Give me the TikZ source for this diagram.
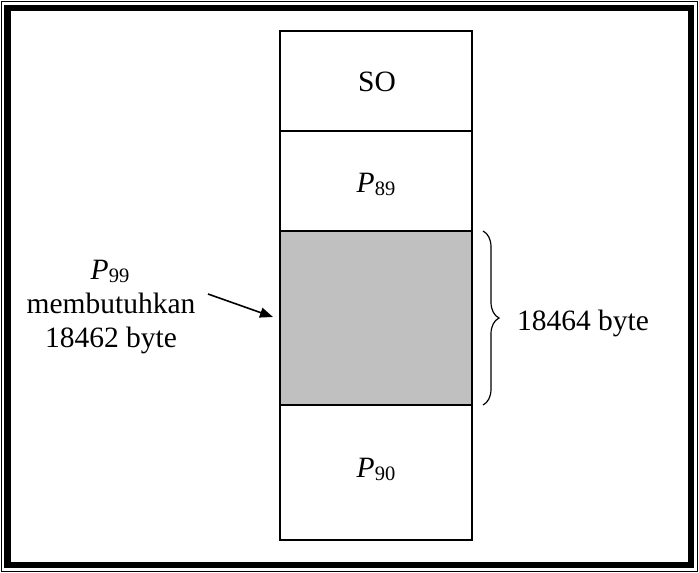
\documentclass[tikz,border=0pt]{standalone}
\usepackage{fontspec}
\setmainfont{Liberation Serif}
\usetikzlibrary{decorations.pathreplacing,arrows.meta}
\definecolor{memgray}{HTML}{C0C0C0}
\newcommand{\Pn}[1]{\textit{P}\raisebox{-3pt}{\fontsize{20.5}{20.5}\selectfont #1}}
\tikzset{
  block/.style={draw=black, line width=1.6pt, minimum width=192pt, inner sep=0pt, outer sep=0pt},
  lbl/.style={font=\fontsize{29.5}{34}\selectfont, inner sep=0pt},
}
\begin{document}
\begin{tikzpicture}[x=1pt,y=-1pt]
\useasboundingbox (0,0) rectangle (699,573);
% frame
\draw[line width=1.2pt] (1.5,1.5) rectangle (697.5,571.5);
\draw[line width=6.5pt] (7.5,8) rectangle (691,565);
% memory column
\node[block, minimum height=100pt] (so) at (376,81) {};
\node[block, minimum height=100pt] (p89) at (376,181) {};
\node[block, minimum height=174pt, fill=memgray] (gap) at (376,318) {};
\node[block, minimum height=135pt] (p90) at (376,472.5) {};
\node[lbl] (tso) at (377,82) {SO};
\node[lbl, anchor=base] (tp89) at (376,192) {\Pn{89}};
\node[lbl, anchor=base] (tp90) at (376,477) {\Pn{90}};
% left label
\node[lbl, anchor=base] (l1) at (110,279) {\Pn{99}};
\node[lbl, anchor=base] (l2) at (111,313) {membutuhkan};
\node[lbl, anchor=base] (l3) at (111,347) {18462 byte};
\coordinate (arrtail) at (208,294);
\draw[line width=1.6pt, -{Triangle[length=13pt,width=10pt]}] (arrtail) -- ([xshift=-7pt,yshift=1pt]gap.west);
% brace
\coordinate (btop) at (483,231);
\coordinate (bbot) at (483,405);
\draw[line width=1.2pt, decorate, decoration={brace, amplitude=16pt}] (btop) -- (bbot);
\node[lbl, anchor=base] (bsize) at (583,330) {18464 byte};
\end{tikzpicture}
\end{document}
